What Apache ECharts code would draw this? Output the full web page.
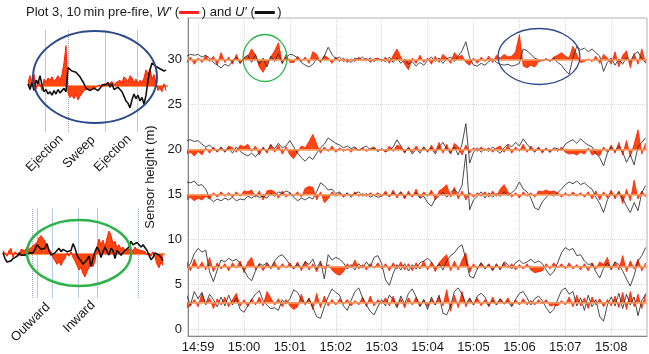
<!DOCTYPE html>
<html>
<head>
<meta charset="utf-8">
<script src="https://cdn.jsdelivr.net/npm/echarts@6/dist/echarts.min.js"></script>
<style>
  html, body { margin: 0; background: #fff; }
  #chart { width: 649px; height: 354px; }
</style>
</head>
<body>
<div id="chart"></div>
<script>
// sensor heights (m)
const heights = [30, 20, 15, 7, 3];

// samples every 5 s starting 14:58:45 (minutes relative to 14:59)
const tStart = -0.25;
const tStep = 5 / 60;

// W' and U' deviations, in plot units, per height
const w30 = [-0.4,0.3,-0.5,0.2,-0.3,0.5,-0.2,0.4,-0.6,0.8,-0.3,0.3,-0.5,0.6,-0.4,0.2,
  0.4,1.2,0.5,-0.8,-1.4,-0.5,0.3,1.0,1.9,-0.4,0.6,-0.3,
  -0.3,0.4,-0.2,0.3,-0.4,0.9,0.6,-0.3,0.5,0.2,-0.4,0.3,
  -0.2,0.2,-0.3,0.1,-0.2,0.3,-0.1,0.2,-0.3,0.1,0.2,-0.2,
  0.3,-0.4,0.5,1.2,0.3,-0.5,-1.1,0.2,-0.4,0.5,-0.3,0.2,
  -0.5,0.4,-0.3,0.6,0.2,-0.4,0.8,0.3,0.5,-0.3,-0.6,0.2,
  -0.4,0.3,-0.2,0.4,-0.3,0.5,0.2,0.6,0.3,0.4,0.9,2.8,
  -0.7,-0.9,-0.6,-0.8,-0.2,-0.1,0.1,-0.1,0.3,0.5,0.8,0.4,
  0.2,1.5,0.6,-0.3,-0.2,0.1,-0.2,0.4,-0.4,0.6,0.2,-0.5,
  0.9,-0.8,0.5,1.0,-0.9,0.7,-0.5,1.2,-0.4];
const u30 = [0.4,0.6,0.5,0.6,0.3,0.5,0.2,-0.3,-0.6,-0.9,-0.5,-0.7,-0.2,0.3,-0.4,0.2,
  0.5,-0.3,0.6,-0.5,0.2,-0.8,0.4,-0.2,0.7,-0.4,0.3,0.6,
  0.5,0.2,-0.3,-0.6,-0.8,-0.5,0.1,-0.2,0.4,1.4,0.6,0.1,
  0.3,-0.2,0.1,-0.3,0.2,0,0.3,-0.1,0.2,-0.2,0.1,0,
  -0.2,0.3,-0.3,0.2,-0.4,0.1,-0.5,-0.2,-0.7,-0.3,-0.6,-0.1,
  0.3,-0.2,0.2,-0.4,0.1,0.3,-0.2,0.4,1.0,2.0,0.2,-0.6,
  -0.7,-0.4,-0.6,-0.2,0.1,-0.3,-0.5,-0.6,-0.5,-0.7,-0.6,-0.4,
  1.2,1.0,0.6,0.2,0,-0.1,0.1,-0.2,0.2,-0.3,-0.6,-1.2,
  -1.6,0.2,1.5,1.1,1.3,0.9,1.2,0.8,0.4,-1.3,-0.3,0.2,
  -0.6,0.1,-0.5,0.3,-0.2,0.6,0.9,0.1,-0.3];

const w20 = [-0.5,-0.3,-0.7,-0.2,-0.6,0.2,-0.4,0.3,-0.3,0.2,-0.2,0.4,0.2,-0.3,0.5,0.3,
  0.6,-0.2,0.4,-0.6,0.3,-0.4,0.6,-0.3,0.5,-0.5,0.3,-0.6,
  -1.0,-0.3,0.4,0.2,0.9,1.7,0.6,-0.4,0.3,-0.2,0.4,-0.3,
  0.2,-0.2,0.1,-0.3,0.2,-0.1,0.2,-0.2,0.1,0.3,-0.2,0.1,
  -0.3,0.4,-0.2,0.5,0.3,-0.4,0.3,-0.3,0.4,-0.2,0.3,-0.3,
  0.5,-0.3,0.8,-0.4,0.6,-0.5,0.7,0.3,-0.6,0.5,-0.4,0.2,
  -0.2,0.3,-0.1,0.2,-0.3,0.2,0.4,-0.3,0.5,-0.4,0.3,-0.2,
  0.6,-0.3,0.4,-0.2,0.3,-0.4,0.2,-0.3,0.1,-0.2,0.3,-0.3,
  -0.5,-0.4,-0.6,-0.3,-0.5,0.2,-0.6,-0.4,-0.7,0.3,-0.3,0.5,
  -0.4,0.8,-0.6,1.0,-0.8,0.6,2.2,-0.5,0.7];
const u20 = [1.0,1.1,0.9,1.0,0.6,0.3,0.5,0.1,-0.2,0.3,-0.3,0.2,-0.4,0.3,-0.2,-0.5,
  -0.7,-0.4,-0.8,-0.3,0.2,-0.2,0.5,0.1,0.7,0.2,0.4,1.0,
  0.3,-0.4,-0.9,-1.3,-0.8,-1.1,-0.4,0.2,0.6,1.3,1.0,0.7,
  0.5,0.2,0.4,0.1,0.3,-0.1,0.2,0.4,0,0.2,-0.2,0.1,
  -0.2,-0.1,0.3,1.1,0.4,-0.3,0.2,-0.5,0.1,-0.4,0.3,-0.2,
  0.2,-0.5,0.3,0.8,0.1,-0.4,0.3,-0.6,0.6,2.9,-1.5,-0.3,
  0.2,-0.3,0.1,-0.2,0.3,-0.1,-0.4,0.2,0.6,0.3,0.8,0.4,
  1.2,0.6,0.1,-0.3,0.2,-0.2,0.1,-0.3,0.2,0.1,-0.1,0.6,
  0.9,1.1,0.7,1.2,0.8,0.5,0.3,-0.4,-0.9,-1.8,-0.4,0.3,
  -0.2,0.4,-0.3,-1.4,-0.6,-1.7,0.3,0.8,1.3];

const w15 = [-0.6,-0.3,-0.7,-0.4,-0.6,-0.2,-0.5,0.2,-0.3,0.3,-0.2,0.2,-0.3,0.3,-0.2,0.4,
  0.3,0.5,-0.3,0.4,-0.6,0.4,0.5,0.3,-0.4,0.4,-0.3,0.2,
  -0.2,0.3,-0.3,0.7,0.9,0.8,-0.6,0.3,-0.9,-0.5,0.3,-0.2,
  0.2,-0.3,0.1,-0.2,0.3,-0.2,0.1,-0.2,0.2,-0.1,0.2,-0.2,
  0.4,-0.3,0.5,-0.4,0.3,-0.5,0.4,-0.3,0.6,-0.4,0.3,-0.2,
  0.5,-0.6,0.4,0.7,1.1,-0.3,0.8,-0.5,0.4,-0.6,0.2,-0.3,
  0.2,-0.2,0.3,-0.3,0.4,-0.2,0.6,1.1,0.3,-0.3,0.2,-0.4,
  0.3,-0.2,0.2,-0.3,0.4,0.3,0.5,0.3,0.4,0.2,-0.3,0.2,
  -0.2,0.3,-0.2,0.2,-0.3,0.3,-0.5,0.4,-0.6,0.3,-0.4,0.5,
  -0.5,0.4,-1.0,0.6,-0.7,1.6,-0.5,0.4,-0.3];
const u15 = [1.4,1.3,1.5,1.0,1.1,0.6,-0.4,-0.8,-0.5,-0.7,-0.4,-0.6,-0.3,-0.7,-0.5,-0.6,
  -0.2,-0.4,-0.1,-0.3,-0.2,-0.4,0.1,-0.2,0.3,0.1,0.4,0.2,
  -0.3,-0.7,-0.4,-0.6,-0.3,-0.5,0.3,1.3,1.0,0.5,0.6,0.1,
  0.3,-0.2,0.2,-0.3,0.1,0.3,-0.2,0.1,-0.3,-0.1,-0.3,-0.2,
  0.1,-0.2,0.2,-0.1,0.3,-0.3,0.1,-0.2,0.2,-0.4,-0.2,-0.9,
  -1.3,-0.5,-0.2,0.3,-0.3,0.2,0.6,0.1,1.0,4.5,-1.7,-0.6,
  -0.2,0.3,-0.4,0.2,-0.3,0.1,-0.2,0.3,-0.1,0.2,0.6,1.4,
  0.6,0.3,-0.4,-1.5,-1.7,-0.8,-0.3,0.1,-0.2,0.2,0.6,1.1,
  1.4,1.2,1.5,1.1,1.3,0.9,0.6,-0.3,-1.0,-2.0,-0.6,0.1,
  -0.2,0.3,-0.4,-1.3,-2.0,-0.9,-1.8,0.2,1.0];

const w7 = [0.6,-0.5,0.8,-0.3,0.5,-0.4,1.0,-0.6,0.4,-0.3,0.3,-0.5,0.4,-0.2,0.6,-0.7,
  0.5,1.0,-0.4,0.3,-0.5,0.4,-0.3,0.5,-0.4,0.3,-0.2,0.4,
  -0.3,0.5,-0.5,0.6,-0.4,0.3,-0.6,0.4,-0.3,0.2,-0.4,-0.8,
  -1.0,-0.6,0.3,-0.2,0.7,-0.3,0.2,-0.4,0.3,-0.2,0.4,-0.3,
  0.3,-0.5,0.4,-0.3,0.5,-0.4,0.3,-0.5,0.4,-0.3,0.6,-0.4,
  0.5,-0.6,0.4,0.9,1.3,-0.5,0.6,-0.4,0.7,1.5,-0.7,0.3,
  -0.3,0.4,-0.2,0.3,-0.4,0.2,-0.3,0.4,-0.2,0.3,-0.4,0.2,
  -0.3,0.3,-0.4,-0.7,-0.6,-0.5,0.3,-0.3,0.4,-0.2,0.3,-0.3,
  0.4,-0.3,0.2,-0.4,0.3,-0.5,0.4,-0.3,0.5,0.2,1.0,-0.4,
  0.5,-0.4,1.2,-0.6,0.6,-0.3,0.8,-0.5,0.4];
const u7 = [-0.2,0.3,1.4,2.0,1.6,1.8,-0.6,-1.7,-0.4,0.7,0.5,0.9,0.6,0.8,0.3,-0.4,
  -1.2,-1.6,-0.5,0.3,0.1,0.4,-0.2,0.6,1.1,1.3,0.8,0.2,
  -0.3,0.3,-0.2,0.5,0.2,0.8,-0.3,0.6,-1.4,1.3,0.7,1.0,
  0.8,0.4,-0.3,0.2,-0.4,0.3,-0.2,0.5,-0.1,1.0,1.2,0.3,
  -1.5,-2.1,-0.8,0.2,-0.4,0.3,-0.5,0.2,-0.3,0.4,0.6,0.9,
  0.5,-0.2,0.3,-0.4,0.6,1.2,1.5,2.1,2.4,0.8,-1.1,-1.3,
  -0.3,0.4,-0.3,0.2,-0.5,0.3,-0.4,0.5,0.2,-0.3,0.4,0.7,
  0.3,0.5,0.8,0.4,0.6,0.3,-0.4,-1.0,-0.6,0.4,1.5,2.1,
  1.8,2.0,1.2,1.3,0.6,0.2,0.3,-0.6,-1.3,-0.2,0.4,-0.3,
  0.5,0.2,-0.5,-1.4,-2.2,-1.0,0.6,1.2,2.1];

const w3 = [-0.6,-0.4,0.3,-0.5,1.0,-0.3,0.5,-0.7,0.4,-0.3,0.6,-0.5,0.3,1.0,-0.4,0.3,
  -0.5,0.4,-0.3,0.6,-0.4,1.2,0.5,-0.3,0.4,-0.5,0.3,-0.4,
  -0.8,-0.5,0.9,-0.3,0.5,-0.8,1.0,-0.6,0.7,-0.4,0.3,-0.3,
  0.4,-0.2,0.3,-0.4,0.2,-0.3,0.6,-0.5,0.7,-0.4,0.3,-0.2,
  0.5,-0.4,0.7,-0.5,0.4,-0.6,0.5,-0.3,0.6,-0.4,0.3,-0.5,
  0.4,-0.3,0.6,-0.4,1.4,-1.0,0.8,-0.6,1.2,-0.5,0.4,-0.3,
  0.5,-0.4,0.3,-0.5,0.6,-0.3,0.4,-0.2,0.5,-0.4,0.3,-0.3,
  0.4,-0.3,0.2,-0.3,0.3,-0.2,0.3,-0.4,-0.3,-0.4,0.2,-0.3,
  0.6,-0.5,0.8,-0.4,0.5,-0.7,0.6,-0.3,0.4,-0.5,0.3,-0.4,
  0.7,-0.6,1.1,-0.8,1.2,-0.5,0.9,-0.7,1.0];
const u3 = [0.8,-0.3,1.2,0.4,1.1,-0.2,0.9,0.3,-0.5,0.6,-0.4,0.8,-0.3,0.5,-0.8,-1.1,
  -0.4,0.3,0.9,1.3,0.2,-0.3,-0.7,-0.6,-0.9,0.3,-0.2,0.4,
  1.4,1.1,0.3,-0.2,0.4,-0.6,-1.6,-1.8,-0.5,0.6,1.5,1.1,
  0.8,-0.4,-0.9,0.2,1.2,1.6,0.5,-0.3,-1.0,-1.4,-0.5,0.3,
  -0.4,0.8,0.3,-0.6,0.7,-0.2,1.0,1.5,0.6,-0.5,0.3,-0.8,
  0.6,-0.3,0.8,-1.2,-1.4,-0.4,1.2,1.6,0.9,-0.2,0.5,-0.3,
  0.7,1.0,0.6,-0.4,0.2,-0.3,0.4,-0.2,0.1,-0.5,0.3,1.0,
  1.2,0.5,-0.3,0.4,0.7,0.2,-0.6,-1.2,-0.8,0.3,1.3,1.6,
  0.9,1.2,-0.4,0.5,-0.9,0.8,-0.5,0.3,-1.6,-2.1,-0.3,0.6,
  -0.4,1.0,-0.7,0.9,-0.3,0.6,-1.5,0.2,0.9];

const wByHeight = { 30: w30, 20: w20, 15: w15, 7: w7, 3: w3 };
const uByHeight = { 30: u30, 20: u20, 15: u15, 7: u7, 3: u3 };

// magnified insets (sample index, arbitrary units)
const insetTopW = [0.3,0.9,0.4,1.0,-0.3,0.5,0.2,-0.4,0.6,0.3,0.7,0.5,0.8,0.4,0.6,0.9,0.5,1.0,2.0,3.5,
  -0.6,-1.0,-0.8,-1.1,-0.7,-1.2,-0.9,-1.0,-0.4,-0.3,-0.2,-0.4,-0.2,-0.3,-0.1,-0.2,0.1,-0.1,0.2,0.3,
  0.1,0.2,0.4,0.1,0.3,0.2,0.5,0.3,0.8,0.6,0.4,0.9,0.7,0.3,0.6,0.2,0.5,0.3,0.7,1.4,
  1.0,1.5,0.6,1.0,0.3,-0.4,-0.2,-0.5,0.2,-0.4];
const insetTopU = [0.2,-0.3,0.3,-0.4,0.5,0.2,0.9,0.1,-0.5,-0.3,-0.7,-0.5,-0.8,-0.4,-0.7,-0.3,-0.6,-0.4,-0.2,-0.5,
  1.6,1.5,1.3,1.4,1.2,1.0,0.8,0.5,0.2,-0.2,-0.3,-0.4,-0.3,-0.2,-0.1,-0.4,-0.2,0.1,0.2,0.1,
  0.3,-0.1,0.2,-0.3,-0.4,-0.1,-0.3,-0.5,-0.9,-1.3,-1.5,-1.9,-1.2,-0.7,-1.1,-0.8,-1.3,-1.0,-1.6,-0.8,
  0.5,1.4,2.0,2.1,1.7,1.8,1.5,1.6,1.3,1.4];
const insetTopMarks = [8.5, 20, 38.5, 54.5];
const insetTopDotted = [20];

const insetBotW = [0.3,0.4,-0.2,0.3,0.5,-0.3,0.2,0.3,-0.2,0.4,0.5,0.3,0.6,0.4,0.5,0.7,0.6,1.0,1.4,1.6,
  1.5,1.1,0.6,0.4,0.2,-0.3,-0.6,-0.9,-0.7,-1.0,-0.6,-0.4,0.1,-0.2,0.2,-0.3,-0.6,-1.0,-1.4,-1.2,
  -1.7,-2.0,-1.5,-1.2,-0.8,-1.1,-0.6,0.6,1.3,0.8,1.2,0.6,1.4,2.0,1.6,0.9,1.1,0.5,0.8,0.4,
  0.6,0.3,0.2,0.4,0.5,0.3,0.6,0.4,0.5,0.3,0.4,0.2,-0.1,0.1,-0.2,0.2,-0.3,-0.9,-1.2,-0.7,-1.0];
const insetBotU = [0.1,-0.4,-0.7,-0.8,-0.6,-0.4,-0.5,-0.2,0.1,-0.1,0.0,-0.1,-0.2,0.1,0.2,0.1,0.4,0.8,0.6,0.4,
  0.3,0.5,0.9,0.3,-0.1,-0.1,0.1,0.3,0.5,0.2,0.4,0.3,0.2,0.1,0.3,0.9,0.5,-0.1,-0.4,-0.6,
  -0.9,-1.0,-0.5,-0.2,-1.1,-0.4,0.2,0.6,0.3,-0.3,0.2,0.6,0.2,-0.1,0.5,0.3,-0.4,0.3,0.1,-0.1,
  0.1,0.3,0.4,0.6,1.1,0.8,0.7,1.0,0.9,0.6,0.8,0.7,0.3,-0.1,-0.5,-0.3,0.1,0.2,-0.1,-0.3,-0.6];
const insetBotMarks = [14.5, 17, 24.5, 37.5, 47, 67.5];
const insetBotDotted = [14.5, 67.5];

const FONT = '"Liberation Sans", Arial, Helvetica, sans-serif';
const RED_LINE = '#ff1e00';
const RED_FILL = '#ff4510';
const BASE = '#f59b60';

const fmtTime = v => {
  const m = Math.round(v) + 59;
  return (14 + Math.floor(m / 60)) + ':' + String(m % 60).padStart(2, '0');
};

const series = [];
heights.forEach(h => {
  const w = wByHeight[h], u = uByHeight[h];
  series.push({
    type: 'line', xAxisIndex: 0, yAxisIndex: 0,
    data: w.map((v, i) => [tStart + i * tStep, h + v]),
    symbol: 'none', z: 2,
    lineStyle: { color: RED_LINE, width: 0.8 },
    areaStyle: { origin: h, color: RED_FILL, opacity: 1 },
    markLine: {
      silent: true, symbol: 'none', label: { show: false },
      lineStyle: { color: BASE, width: 1.5, type: 'solid' },
      data: [{ yAxis: h }]
    }
  });
  series.push({
    type: 'line', xAxisIndex: 0, yAxisIndex: 0,
    data: u.map((v, i) => [tStart + i * tStep, h + v]),
    symbol: 'none', z: 3,
    lineStyle: { color: '#2a2a2a', width: 0.85 }
  });
});

function insetSeries(idx, wArr, uArr, marks, dotted) {
  const lines = marks.map(m => ({
    xAxis: m,
    lineStyle: dotted.includes(m)
      ? { color: '#9aa6b8', width: 1, type: 'dotted' }
      : { color: '#b4cbe8', width: 1, type: 'solid' }
  }));
  lines.push({ yAxis: 0, lineStyle: { color: BASE, width: 2, type: 'solid' } });
  return [{
    type: 'line', xAxisIndex: idx, yAxisIndex: idx,
    data: wArr.map((v, k) => [k, v]),
    symbol: 'none', z: 2,
    lineStyle: { color: RED_LINE, width: 1 },
    areaStyle: { origin: 0, color: RED_FILL, opacity: 1 },
    markLine: { silent: true, symbol: 'none', label: { show: false }, z: 1, data: lines }
  }, {
    type: 'line', xAxisIndex: idx, yAxisIndex: idx,
    data: uArr.map((v, k) => [k, v]),
    symbol: 'none', z: 3,
    lineStyle: { color: '#111', width: 1.6 }
  }];
}
series.push(...insetSeries(1, insetTopW, insetTopU, insetTopMarks, insetTopDotted));
series.push(...insetSeries(2, insetBotW, insetBotU, insetBotMarks, insetBotDotted));

const hiddenAxis = (min, max, gridIndex) => ({
  type: 'value', gridIndex, min, max, show: false,
  splitLine: { show: false }
});

const chart = echarts.init(document.getElementById('chart'), null, { renderer: 'canvas' });
chart.setOption({
  animation: false,
  backgroundColor: '#fff',
  title: {
    text: 'Plot 3, 10\u2009min pre-fire, {i|W\u2032} ({r|}\u2009) and {i|U\u2032} ({k|}\u2009)',
    left: 21, top: 1,
    textStyle: {
      fontFamily: FONT, fontSize: 13, fontWeight: 'normal', color: '#1a1a1a',
      rich: {
        i: { fontFamily: FONT, fontSize: 13, fontStyle: 'italic', color: '#1a1a1a' },
        r: { width: 20, height: 3, backgroundColor: '#ff2020' },
        k: { width: 20, height: 3, backgroundColor: '#111' }
      }
    }
  },
  grid: [
    { left: 188, top: 18, right: 2, bottom: 17, show: true, borderColor: '#b0b0b0', borderWidth: 1 },
    { left: 28, top: 30, width: 140, height: 102 },
    { left: 3, top: 208, width: 162, height: 90 }
  ],
  xAxis: [
    {
      type: 'value', gridIndex: 0, min: -0.22, max: 9.78, splitNumber: 10,
      axisLine: { show: true, onZero: false, lineStyle: { color: '#888' } },
      axisTick: { show: false },
      axisLabel: {
        formatter: fmtTime, showMinLabel: false, showMaxLabel: false,
        fontFamily: FONT, fontSize: 13, color: '#1a1a1a', margin: 5
      },
      splitLine: { show: true, lineStyle: { color: '#d8d8d8', type: 'dotted', width: 1 } }
    },
    hiddenAxis(0, 70, 1),
    hiddenAxis(0, 81, 2)
  ],
  yAxis: [
    {
      type: 'value', gridIndex: 0, min: -0.75, max: 34.65, splitNumber: 7,
      name: 'Sensor height (m)', nameLocation: 'middle', nameRotate: 90, nameGap: 29,
      nameTextStyle: { fontFamily: FONT, fontSize: 13, color: '#1a1a1a' },
      axisLine: { show: true, onZero: false, lineStyle: { color: '#888' } },
      axisTick: { show: false },
      axisLabel: {
        showMinLabel: false, showMaxLabel: false,
        fontFamily: FONT, fontSize: 13, color: '#1a1a1a', margin: 6
      },
      splitLine: { show: true, lineStyle: { color: '#d8d8d8', type: 'dotted', width: 1 } }
    },
    hiddenAxis(-4, 4.87, 1),
    hiddenAxis(-3.83, 4.0, 2)
  ],
  series,
  graphic: [
    { type: 'ellipse', shape: { cx: 95, cy: 77, rx: 62, ry: 46 }, style: { fill: 'none', stroke: '#2c4a8c', lineWidth: 2 }, z: 10 },
    { type: 'ellipse', shape: { cx: 79, cy: 253, rx: 52, ry: 33 }, style: { fill: 'none', stroke: '#2db34a', lineWidth: 2.5 }, z: 10 },
    { type: 'ellipse', shape: { cx: 265, cy: 58, rx: 22, ry: 23.5 }, style: { fill: 'none', stroke: '#2db34a', lineWidth: 1.3 }, z: 10 },
    { type: 'ellipse', shape: { cx: 539, cy: 56.5, rx: 41, ry: 28 }, style: { fill: 'none', stroke: '#2c4a8c', lineWidth: 1.3 }, z: 10 },
    ...[['Ejection', 61, 137], ['Sweep', 93, 138], ['Ejection', 129, 137], ['Outward', 48, 305], ['Inward', 93, 303]]
      .map(([t, x, y]) => ({
        type: 'text', x, y, rotation: Math.PI / 4, z: 10,
        style: { text: t, font: '13px ' + FONT, fill: '#1a1a1a', align: 'right', verticalAlign: 'middle' }
      }))
  ]
});
</script>
</body>
</html>
